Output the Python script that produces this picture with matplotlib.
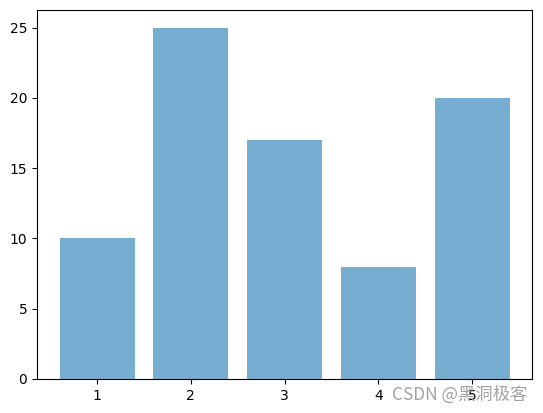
import matplotlib
matplotlib.use("Agg")
import matplotlib.pyplot as plt

categories = [1, 2, 3, 4, 5]
values = [10, 25, 17, 8, 20]

fig = plt.figure(figsize=(5.43, 4.13), dpi=100)
ax = fig.add_axes([37/543, 34/413, (532-37)/543, (379-10)/413])
ax.bar(categories, values, alpha=0.6)
ax.set_xticks(categories)

fig.text(527/543, 18/413, "CSDN @黑洞极客", ha="right", va="center",
         fontsize=12.5, color="#999999", alpha=0.9,
         family=["Noto Sans CJK SC", "DejaVu Sans"])

fig.savefig("out.png", dpi=100)
